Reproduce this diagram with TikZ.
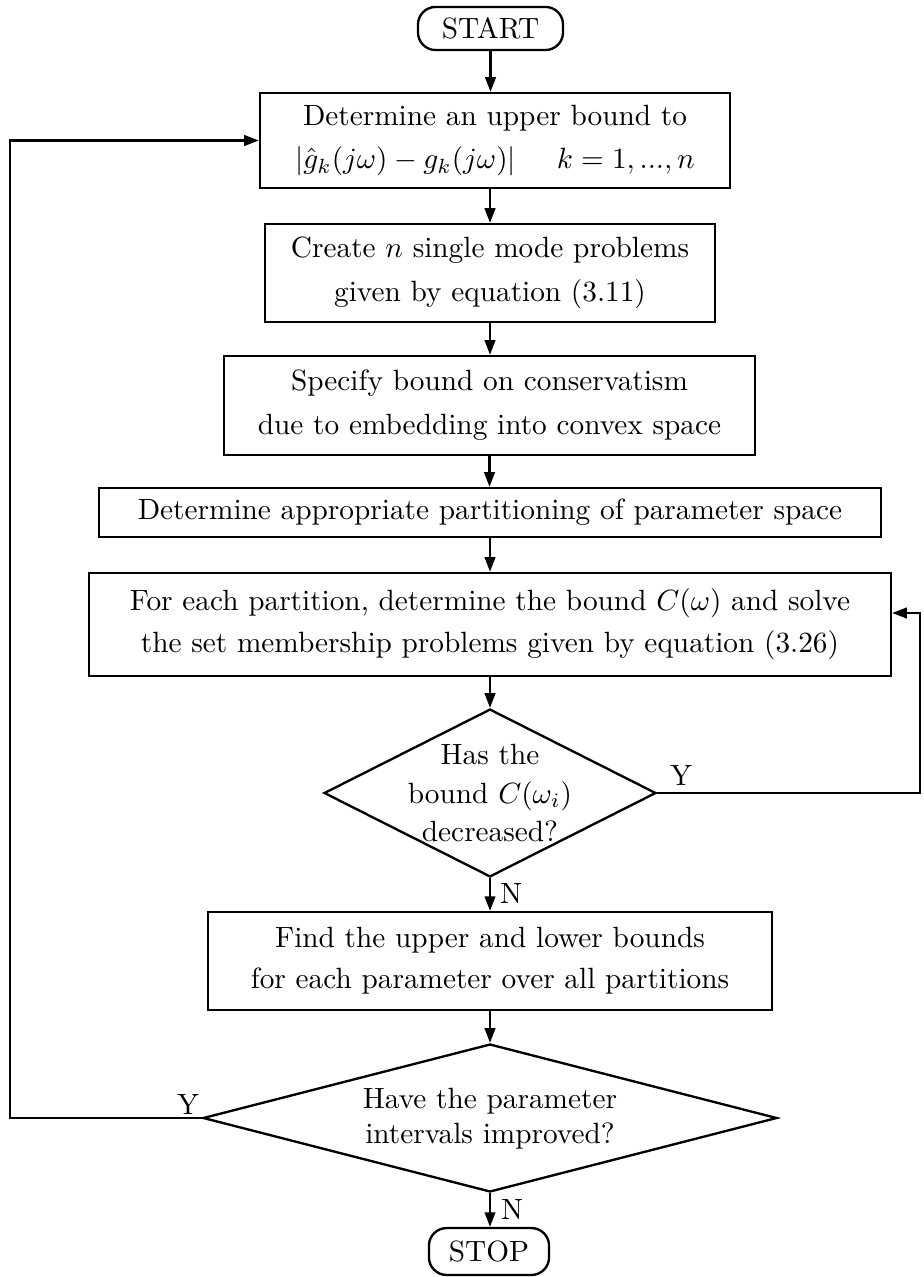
\documentclass[tikz,border=0pt]{standalone}
\usetikzlibrary{shapes.geometric,arrows.meta}
\begin{document}
\begin{tikzpicture}[x=0.3413pt,y=-0.3413pt,
  line width=0.8pt,
  box/.style={draw,rectangle,inner sep=0pt,align=center,font=\fontsize{10}{15}\selectfont},
  term/.style={draw,rectangle,rounded corners=6pt,inner sep=0pt},
  dia/.style={draw,diamond,inner sep=0pt},
  dtext/.style={align=center,inner sep=0pt},
  arr/.style={-{Triangle[length=5pt,width=3.6pt]}},
  lab/.style={inner sep=0pt}]
\useasboundingbox (0,0) rectangle (923,1277);

\node[term,minimum width=49.5pt,minimum height=14.7pt] (start) at (490.5,28.5) {START};
\node[box,minimum width=160.4pt,minimum height=32.4pt] (b1) at (495,140.5)
  {Determine an upper bound to\\ $|\hat{g}_k(j\omega)-g_k(j\omega)|\hspace{14pt}k=1,...,n$};
\node[box,minimum width=153.6pt,minimum height=33.4pt] (b2) at (490,273)
  {Create $n$ single mode problems\\ given by equation (3.11)};
\node[box,minimum width=181.2pt,minimum height=33.8pt] (b3) at (489.5,405.5)
  {Specify bound on conservatism\\ due to embedding into convex space};
\node[box,minimum width=266.9pt,minimum height=16.7pt] (b4) at (490,512.5)
  {Determine appropriate partitioning of parameter space};
\node[box,minimum width=273.7pt,minimum height=35.2pt,font=\fontsize{10}{14.3}\selectfont] (b5) at (490,624.5)
  {For each partition, determine the bound $C(\omega)$ and solve\\ the set membership problems given by equation (3.26)};
\node[dia,minimum width=113.3pt,minimum height=57.3pt] (d1) at (490,793) {};
\node[dtext,font=\fontsize{10}{13.1}\selectfont] (d1t) at (490,793) {Has the\\ bound $C(\omega_i)$\\ decreased?};
\node[box,minimum width=192.5pt,minimum height=33.4pt,font=\fontsize{10}{14}\selectfont] (b6) at (490,961)
  {Find the upper and lower bounds\\ for each parameter over all partitions};
\node[dia,minimum width=195.9pt,minimum height=50.5pt] (d2) at (490,1118) {};
\node[dtext,font=\fontsize{10}{12}\selectfont] (d2t) at (490,1119) {Have the parameter\\ intervals improved?};
\node[term,minimum width=41pt,minimum height=16pt] (stop) at (489,1251.5) {STOP};

\draw[arr] (start) -- (start |- b1.north);
\draw[arr] (b2 |- b1.south) -- (b2.north);
\draw[arr] (b2.south) -- (b2.south |- b3.north);
\draw[arr] (b3.south) -- (b3.south |- b4.north);
\draw[arr] (b4.south) -- (b5.north);
\draw[arr] (b5.south) -- (d1.north);
\draw[arr] (d1.south) -- (b6.north);
\draw[arr] (b6.south) -- (d2.north);
\draw[arr] (d2.south) -- (d2.south |- stop.north);

\coordinate (L) at (10,1118);
\draw[arr] (d2.west) -- (L) |- (b1.west);
\coordinate (R) at (920,793);
\coordinate (R2) at (920,613);
\draw[arr] (d1.east) -- (R) -- (R2) -- (b5.east |- R2);

\node[lab] (y1) at (681,775) {Y};
\node[lab] (n1) at (511,893) {N};
\node[lab] (y2) at (188,1104) {Y};
\node[lab] (n2) at (512,1209) {N};
\end{tikzpicture}
\end{document}
